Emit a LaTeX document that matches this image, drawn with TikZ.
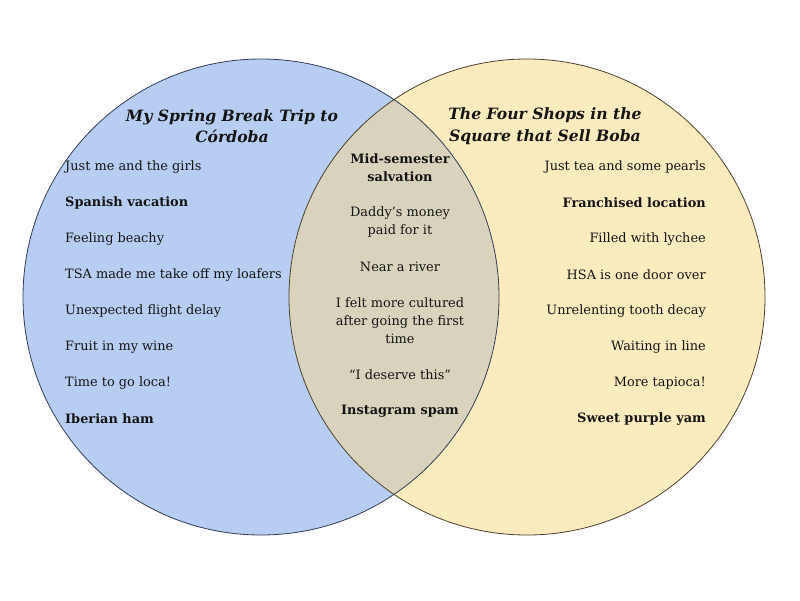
\documentclass[tikz,border=0pt]{standalone}
\usepackage{fontspec}
\setmainfont{DejaVu Serif}
\usetikzlibrary{positioning}
\definecolor{spring}{RGB}{183,206,242}
\definecolor{springline}{RGB}{50,60,85}
\definecolor{boba}{RGB}{253,235,192}
\definecolor{bobaline}{RGB}{75,65,45}
\definecolor{both}{RGB}{217,211,189}
\definecolor{ink}{RGB}{20,20,20}
\tikzset{
  set/.style={circle, minimum size=476pt, inner sep=0pt, line width=0.8pt},
  title/.style={font=\fontsize{15.6}{21.5}\selectfont\bfseries\itshape, align=center, text=ink},
  item/.style={font=\fontsize{12.9}{18}\selectfont, text=ink, inner sep=0pt},
  key/.style={item, font=\fontsize{12.9}{18}\selectfont\bfseries},
}

\begin{document}
\begin{tikzpicture}[x=1pt, y=-1pt]
  \useasboundingbox (0,0) rectangle (800,600);

  % the two sets
  \node[set, fill=spring] (spring) at (261,297) {};
  \node[set, fill=boba] (boba) at (527,297) {};
  \begin{scope}
    \clip (spring.center) circle[radius=238pt];
    \fill[both] (boba.center) circle[radius=238pt];
  \end{scope}
  \draw[springline, line width=0.8pt] (spring.center) circle[radius=238pt];
  \draw[bobaline, line width=0.8pt] (boba.center) circle[radius=238pt];

  \node[title] (springtitle) at (232,126) {My Spring Break Trip to\\C\'ordoba};
  \node[title] (bobatitle) at (545,126) {The Four Shops in the\\Square that Sell Boba};

  % left: the trip
  \node[item, anchor=west] (l1) at (65,167) {Just me and the girls};
  \node[key,  anchor=west] (l2) at (65,203) {Spanish vacation};
  \node[item, anchor=west] (l3) at (65,239) {Feeling beachy};
  \node[item, anchor=west] (l4) at (65,275) {TSA made me take off my loafers};
  \node[item, anchor=west] (l5) at (65,311) {Unexpected flight delay};
  \node[item, anchor=west] (l6) at (65,347) {Fruit in my wine};
  \node[item, anchor=west] (l7) at (65,383) {Time to go loca!};
  \node[key,  anchor=west] (l8) at (65,419) {Iberian ham};

  % right: the boba shops
  \node[item, anchor=east] (r1) at (706,167) {Just tea and some pearls};
  \node[key,  anchor=east] (r2) at (706,203) {Franchised location};
  \node[item, anchor=east] (r3) at (706,239) {Filled with lychee};
  \node[item, anchor=east] (r4) at (706,275) {HSA is one door over};
  \node[item, anchor=east] (r5) at (706,311) {Unrelenting tooth decay};
  \node[item, anchor=east] (r6) at (706,347) {Waiting in line};
  \node[item, anchor=east] (r7) at (706,383) {More tapioca!};
  \node[key,  anchor=east] (r8) at (706,419) {Sweet purple yam};

  % middle: both
  \node[key,  align=center] (c1) at (400,168) {Mid-semester\\salvation};
  \node[item, align=center] (c2) at (400,222) {Daddy’s money\\paid for it};
  \node[item, align=center] (c3) at (400,267) {Near a river};
  \node[item, align=center] (c4) at (400,321) {I felt more cultured\\after going the first\\time};
  \node[item, align=center] (c5) at (400,375) {“I deserve this”};
  \node[key,  align=center] (c6) at (400,411) {Instagram spam};
\end{tikzpicture}
\end{document}
